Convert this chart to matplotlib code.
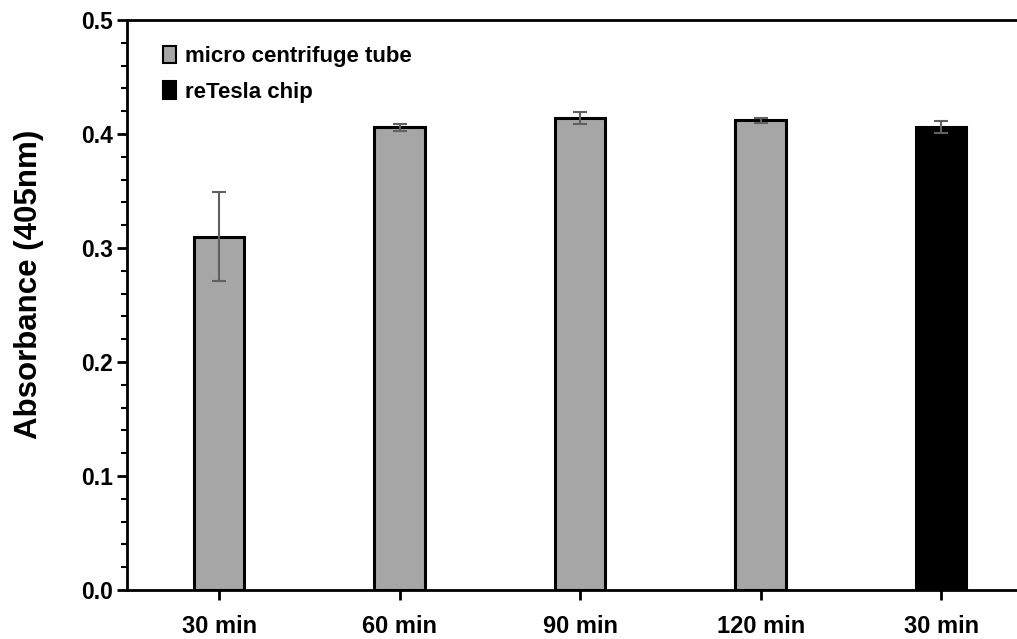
import matplotlib.pyplot as plt
import numpy as np
from matplotlib.patches import Patch

plt.rcParams['font.family'] = ['Liberation Sans', 'DejaVu Sans']

labels = ["30 min", "60 min", "90 min", "120 min", "30 min"]
values = [0.310, 0.406, 0.414, 0.412, 0.406]
errors = [0.039, 0.003, 0.005, 0.002, 0.005]
colors = ["#a6a6a6", "#a6a6a6", "#a6a6a6", "#a6a6a6", "#000000"]

fig = plt.figure(figsize=(10.17, 6.39), dpi=100)
ax = fig.add_axes([0.1249, 0.0767, 0.8751, 0.892])

x = np.arange(len(labels))
ax.bar(x, values, width=0.28, color=colors, edgecolor="black", linewidth=2.2, zorder=2)
ax.errorbar(x, values, yerr=errors, fmt="none", ecolor="#606060", elinewidth=1.5,
            capsize=5, capthick=1.5, zorder=3)

ax.set_xlim(-0.51, 4.42)
ax.set_ylim(0, 0.5)
ax.set_yticks([0.0, 0.1, 0.2, 0.3, 0.4, 0.5])
ax.set_yticks(np.arange(0, 0.5, 0.02), minor=True)
ax.yaxis.set_major_formatter(plt.FormatStrFormatter("%.1f"))
ax.set_xticks(x)
ax.set_xticklabels(labels, fontweight="bold")
plt.setp(ax.get_yticklabels(), fontweight="bold")

ax.spines["right"].set_visible(False)
for s in ["left", "top", "bottom"]:
    ax.spines[s].set_linewidth(2)
ax.tick_params(axis="y", which="major", direction="out", length=7, width=2, pad=3,
               labelsize=16.5)
ax.tick_params(axis="y", which="minor", direction="out", length=4, width=1.5)
ax.tick_params(axis="x", which="major", direction="out", length=7, width=2, pad=11,
               labelsize=17)

ax.set_ylabel("Absorbance (405nm)", fontsize=22.5, fontweight="bold")
ax.yaxis.set_label_coords(-0.093, 0.537)

handles = [Patch(facecolor="#a6a6a6", edgecolor="black", linewidth=1.5, label="micro centrifuge tube"),
           Patch(facecolor="#000000", edgecolor="black", linewidth=1.5, label="reTesla chip")]
ax.legend(handles=handles, loc="upper left", bbox_to_anchor=(0.018, 0.99), frameon=False,
          handlelength=0.6, handleheight=0.85, handletextpad=0.4, labelspacing=0.62,
          prop={"weight": "bold", "size": 16})

fig.savefig("out.png", dpi=100)
